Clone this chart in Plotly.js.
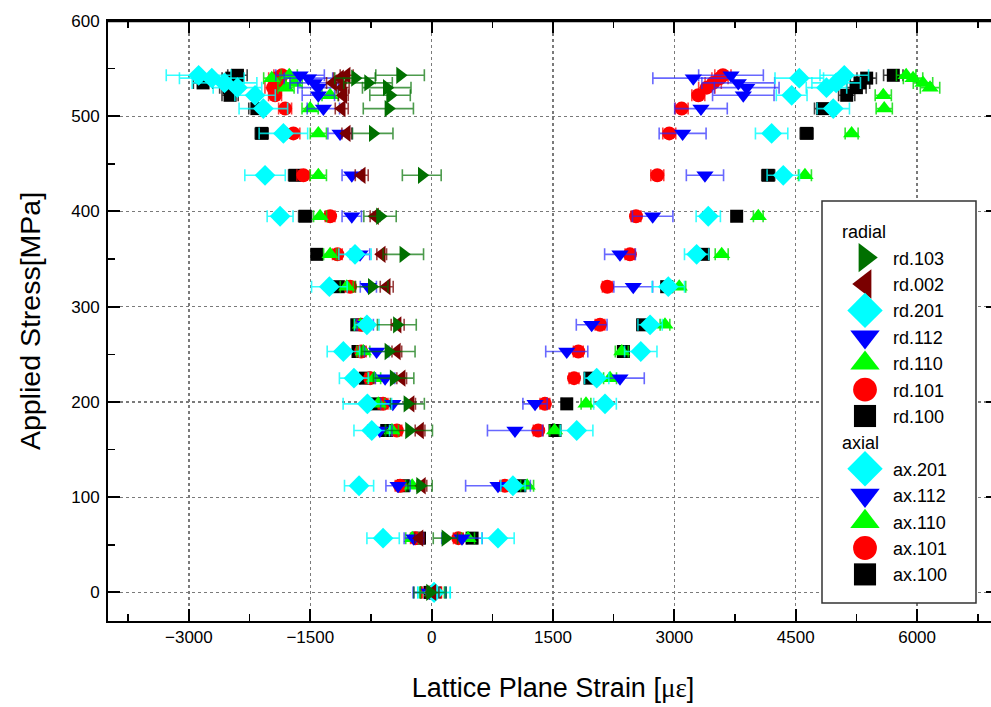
<!DOCTYPE html>
<html>
<head>
<meta charset="utf-8">
<script src="https://cdn.plot.ly/plotly-3.0.1.min.js"></script>
<style>
html,body{margin:0;padding:0;overflow:hidden;background:#fff;}
#chart{width:1000px;height:707px;}
</style>
</head>
<body>
<div id="chart"></div>
<script>
// Applied stress levels [MPa]
const stress = [0, 57, 112, 170, 198, 225, 253, 281, 321, 355, 395, 438, 482, 508, 522, 530, 535, 540, 543];

// Radial lattice strains [micro-strain]
const rd103 = [-20, 170, -143, -280, -300, -470, -535, -430, -740, -350, -638, -122, -728, -535, -514, -555, -786, -947, -390];
const rd002 = [10, -150, -120, -143, -260, -370, -430, -420, -555, -617, -700, -864, -1049, -1111, -1091, -1100, -1219, -1132, -1050];
const rd201 = [30, -600, -897, -740, -794, -960, -1091, -800, -1264, -947, -1873, -2059, -1832, -2080, -2182, -2400, -2560, -2717, -2880];
const rd112 = [-30, -220, -415, -640, -480, -575, -680, -820, -782, -885, -987, -987, -1132, -1338, -1400, -1404, -1450, -1523, -1626];
const rd110 = [10, -240, -240, -490, -660, -710, -844, -880, -1049, -1255, -1379, -1400, -1400, -1502, -1255, -1800, -1700, -1976, -1760];
const rd101 = [0, -200, -390, -430, -600, -760, -870, -865, -1008, -1165, -1255, -1585, -1709, -1811, -1935, -1960, -1900, -1914, -1850];
const rd100 = [-20, -150, -350, -555, -700, -820, -910, -925, -1153, -1420, -1564, -1688, -2100, -2160, -2491, -2500, -2825, -2470, -2400];

// Axial lattice strains [micro-strain]
const ax201 = [30, 820, 1005, 1793, 2143, 2040, 2585, 2700, 2925, 3275, 3419, 4346, 4202, 4964, 4450, 4880, 5000, 4544, 5100];
const ax112 = [-20, 375, 820, 1030, 1278, 2328, 1670, 1978, 2492, 2328, 2732, 3378, 3102, 3329, 3852, 3894, 3790, 3234, 3700];
const ax110 = [10, 450, 1180, 1520, 1908, 2205, 2350, 2884, 3060, 3585, 4037, 4614, 5191, 5594, 5582, 6160, 6073, 5950, 5865];
const ax101 = [0, 330, 905, 1318, 1400, 1760, 1813, 2081, 2171, 2451, 2526, 2789, 2937, 3090, 3296, 3400, 3480, 3564, 3600];
const ax100 = [-10, 500, 1090, 1525, 1670, 1957, 2370, 2608, 2905, 3357, 3770, 4160, 4635, 4832, 5130, 5250, 5294, 5377, 5706];

// Error (+/-) in micro-strain
const rd103Err = [200,150,150,290,210,250,330,240,200,250,200,240,250,310,250,300,300,250,300];
const rd002Err = [80,60,60,60,60,60,60,80,80,60,60,80,60,80,60,80,80,80,80];
const rd201Err = [200,200,180,220,300,180,200,150,220,200,160,250,300,300,250,300,400,400,400];
const rd112Err = [200,120,150,150,150,120,150,100,100,120,120,120,150,200,200,250,300,300,300];
const rd110Err = [150,80,80,80,80,80,80,80,80,80,80,100,100,100,100,100,100,100,100];
const rd101Err = [120,60,60,60,60,60,60,60,60,60,60,80,80,80,80,100,100,100,100];
const rd100Err = [120,60,60,60,60,60,60,60,60,60,80,80,80,100,100,120,120,120,120];
const ax201Err = [200,200,150,200,140,150,200,150,200,150,150,200,200,200,190,250,300,300,300];
const ax112Err = [200,250,400,340,150,300,260,190,240,190,250,230,290,325,380,400,450,500,400];
const ax110Err = [150,80,80,60,60,80,80,60,80,80,60,80,80,100,100,120,120,120,120];
const ax101Err = [120,60,60,60,60,60,60,60,60,60,60,80,80,80,80,100,100,100,100];
const ax100Err = [120,60,60,60,60,60,60,60,60,60,60,80,80,100,100,120,120,120,120];

const COL = {
  dgreen: 'rgb(0,112,0)', maroon: 'rgb(122,0,0)', cyan: 'rgb(0,255,255)',
  blue: 'rgb(0,0,255)', lime: 'rgb(0,255,0)', red: 'rgb(255,0,0)', black: 'rgb(0,0,0)'
};
const ECOL = {
  dgreen: 'rgba(0,112,0,0.7)', maroon: 'rgba(122,0,0,0.75)', cyan: 'rgba(0,255,255,0.8)',
  blue: 'rgba(40,40,255,0.7)', lime: 'rgba(0,220,0,0.8)', red: 'rgba(255,0,0,0.75)', black: 'rgba(0,0,0,0.75)'
};
const SYM = {dgreen:'triangle-right', maroon:'triangle-left', cyan:'diamond', blue:'triangle-down', lime:'triangle-up', red:'circle', black:'square'};
const SIZE = {dgreen:15, maroon:15, cyan:16, blue:15, lime:15, red:14, black:13};

// [name, strains, errors, colour key, group, legend rank] in drawing order
const defs = [
  ['ax.100', ax100, ax100Err, 'black', 'axial', 12],
  ['ax.101', ax101, ax101Err, 'red', 'axial', 11],
  ['ax.110', ax110, ax110Err, 'lime', 'axial', 10],
  ['ax.112', ax112, ax112Err, 'blue', 'axial', 9],
  ['ax.201', ax201, ax201Err, 'cyan', 'axial', 8],
  ['rd.100', rd100, rd100Err, 'black', 'radial', 7],
  ['rd.101', rd101, rd101Err, 'red', 'radial', 6],
  ['rd.110', rd110, rd110Err, 'lime', 'radial', 5],
  ['rd.112', rd112, rd112Err, 'blue', 'radial', 4],
  ['rd.201', rd201, rd201Err, 'cyan', 'radial', 3],
  ['rd.002', rd002, rd002Err, 'maroon', 'radial', 2],
  ['rd.103', rd103, rd103Err, 'dgreen', 'radial', 1]
];

const traces = defs.map(d => ({
  type: 'scatter', mode: 'markers',
  name: d[0],
  x: d[1], y: stress,
  error_x: {type: 'data', array: d[2], visible: true, color: ECOL[d[3]], thickness: 1.6, width: 6},
  marker: {symbol: SYM[d[3]], size: SIZE[d[3]], color: COL[d[3]], line: {width: 0}},
  legendgroup: d[4],
  legendgrouptitle: {text: d[4], font: {size: 18, color: '#000'}},
  legendrank: d[5]
}));

const axisCommon = {
  showline: true, linecolor: '#000', linewidth: 2, mirror: 'allticks',
  ticks: 'inside', ticklen: 12, tickwidth: 2, tickcolor: '#000',
  showgrid: true, gridcolor: '#7a7a7a', griddash: 'dot', gridwidth: 1.2,
  zeroline: false,
  tickfont: {family: 'Liberation Sans, Arial, sans-serif', size: 17, color: '#000'}
};

const LX0 = (822 - 108) / 890, LX1 = (976 - 108) / 890;
const LY0 = (621 - 603) / 600, LY1 = (621 - 201) / 600;

const layout = {
  width: 1000, height: 707,
  margin: {l: 108, r: 2, t: 21, b: 86},
  paper_bgcolor: '#fff', plot_bgcolor: '#fff',
  font: {family: 'Liberation Sans, Arial, sans-serif', color: '#000'},
  showlegend: true,
  xaxis: Object.assign({}, axisCommon, {
    range: [-4000, 7000], tick0: 0, dtick: 1500,
    minor: {dtick: 750, ticks: 'inside', ticklen: 7, tickwidth: 1.5, tickcolor: '#000', showgrid: false},
    title: {text: 'Lattice Plane Strain [<span style="font-family:Liberation Serif">με</span>]', font: {size: 27, color: '#000'}, standoff: 32}
  }),
  yaxis: Object.assign({}, axisCommon, {
    range: [-30, 600], tick0: 0, dtick: 100,
    minor: {dtick: 50, ticks: 'inside', ticklen: 7, tickwidth: 1.5, tickcolor: '#000', showgrid: false},
    ticklabelstandoff: 3,
    title: {text: 'Applied Stress[MPa]', font: {size: 28.5, color: '#000'}, standoff: 22}
  }),
  shapes: [
    {type: 'line', xref: 'paper', yref: 'paper', x0: 0, x1: 1, y0: 1, y1: 1,
     line: {color: '#000', width: 2.5}, layer: 'above'},
    {type: 'rect', xref: 'paper', yref: 'paper', x0: LX0, x1: LX1, y0: LY0, y1: LY1,
     fillcolor: '#fff', line: {color: '#333', width: 1.5}, layer: 'above'}
  ],
  legend: {
    x: (837 - 108) / 890, y: (621 - 213) / 600, xanchor: 'left', yanchor: 'top',
    bgcolor: 'rgba(0,0,0,0)', borderwidth: 0,
    font: {size: 18, color: '#000'},
    traceorder: 'grouped', tracegroupgap: 0, itemwidth: 46,
    itemsizing: 'trace'
  }
};

Plotly.newPlot('chart', traces, layout, {displayModeBar: false, staticPlot: true}).then(() => {
  document.querySelectorAll('.legend .legendpoints path').forEach(p => {
    const t = p.getAttribute('transform') || '';
    p.setAttribute('transform', t + ' scale(1.7)');
  });
});
</script>
</body>
</html>
